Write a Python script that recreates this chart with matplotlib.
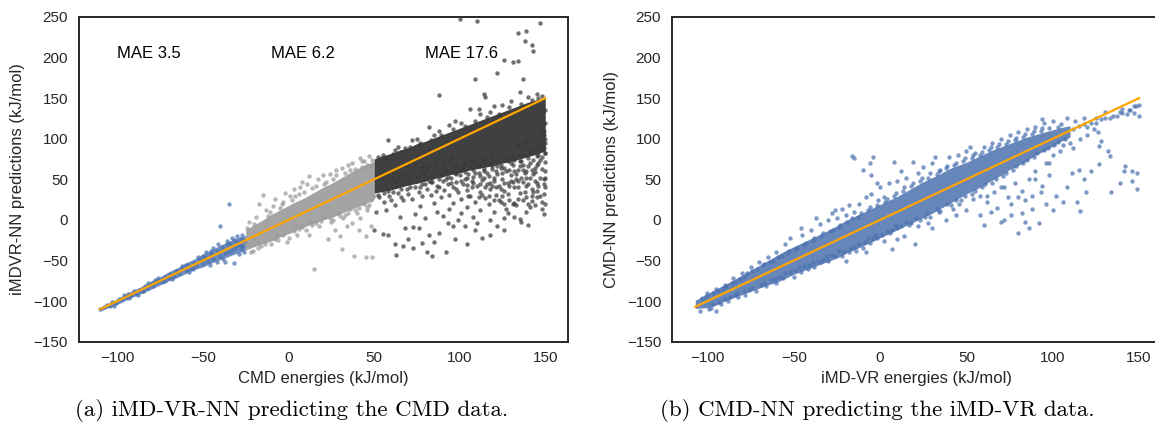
import numpy as np
import matplotlib
matplotlib.use("Agg")
import matplotlib.pyplot as plt

plt.rcParams['font.family'] = ['Liberation Sans', 'DejaVu Sans']

# ---- panel (a): CMD energies vs iMDVR-NN predictions ----
# dense cores of each energy range (x, lower, upper)
a_blue_x = [-110, -105, -100, -95, -90, -85, -80, -75, -70, -65, -60, -55, -50, -45, -40, -35, -30, -25]
a_blue_lo = [-112, -108, -104, -99, -94, -90, -85, -80, -75, -71, -66, -61, -58, -53, -49, -45, -41, -37]
a_blue_hi = [-108, -102, -97, -91, -86, -81, -75, -70, -64, -59, -53, -48, -42, -37, -31, -27, -22, -19]

a_grey_x = [-25, -20, -15, -10, -5, 0, 5, 10, 15, 20, 25, 30, 35, 40, 45, 50]
a_grey_lo = [-37, -33, -29, -26, -21, -17, -12, -8, -4, 0, 3, 7, 12, 16, 20, 25]
a_grey_hi = [-12, -6, 0, 7, 12, 18, 23, 28, 34, 40, 45, 51, 57, 63, 68, 72]

a_dark_x = [50, 55, 60, 65, 70, 75, 80, 85, 90, 95, 100, 105, 110, 115, 120, 125, 130, 135, 140, 145, 150]
a_dark_lo = [33, 35, 37, 40, 43, 45, 48, 51, 53, 56, 58, 61, 63, 65, 67, 70, 72, 75, 78, 81, 85]
a_dark_hi = [75, 79, 82, 86, 89, 94, 97, 101, 105, 109, 113, 117, 121, 125, 129, 133, 137, 141, 145, 148, 151]

a_blue_pts = [(-110, -110), (-108, -107), (-106, -105), (-104, -106), (-103, -101), (-101, -102),
              (-99, -97), (-97, -98), (-95, -95), (-94, -91), (-92, -93), (-90, -88), (-89, -91),
              (-87, -86), (-85, -87), (-84, -82), (-82, -84), (-80, -78), (-79, -81), (-77, -76),
              (-75, -74), (-74, -77), (-72, -70), (-70, -71), (-69, -67), (-67, -69), (-65, -63),
              (-64, -66), (-62, -61), (-60, -62), (-59, -56), (-57, -59), (-55, -53), (-54, -57),
              (-52, -49), (-50, -53), (-49, -46), (-47, -50), (-45, -42), (-44, -48), (-42, -38),
              (-40, -44), (-39, -33), (-37, -41), (-36, -30), (-35, -39), (-34, -28), (-33, -37),
              (-32, -25), (-31, -35), (-30, -27), (-29, -31), (-28, -24), (-27, -32), (-26, -26),
              (-35, 19), (-40, -7), (-32, -53), (-45, -38), (-38, -48), (-30, -20), (-28, -36),
              (-50, -45), (-56, -60), (-60, -55), (-66, -63), (-72, -75), (-78, -74), (-85, -88),
              (-93, -96), (-42, -52), (-48, -40), (-26, -40), (-33, -22), (-58, -64), (-53, -46),
              (-46, -56), (-41, -30), (-37, -52), (-29, -42), (-27, -18), (-62, -57), (-68, -73),
              (-76, -71), (-82, -78), (-88, -92), (-96, -92), (-102, -106), (-36, -26), (-44, -35)]

a_grey_pts = [(15, -61), (23, -24), (31, -36), (38, -45), (45, -46), (49, -46), (41, -12),
              (-15, 31), (-8, 26), (-2, 33), (3, 38), (12, 54), (8, 47), (20, 55), (28, 62),
              (35, 68), (42, 76), (47, 79), (44, 72), (49, 74), (0, -22), (5, -18), (10, -12),
              (18, -8), (25, -3), (32, 2), (40, 8), (-10, -30), (-18, -35), (-22, -40),
              (-24, -10), (-20, -5), (-12, 5), (-5, 15), (2, 25), (9, 35), (16, 42), (26, 50),
              (33, 58), (39, 63), (46, 68), (-25, -30), (-20, -22), (-14, -30), (-6, -25),
              (4, -8), (13, -3), (21, 3), (29, 8), (36, 14), (44, 20), (48, 24), (46, 12),
              (37, -4), (27, -12), (45, -20), (48, -8), (30, -20), (-17, 20), (6, 32), (22, 47),
              (-23, -2), (-19, 4), (-13, 12), (-9, 17), (-3, 22), (1, 30), (7, 40), (11, 44),
              (17, 50), (24, 57), (31, 64), (37, 70), (43, 73), (48, 66), (-21, -38), (-16, -32),
              (-8, -24), (-3, -19), (3, -14), (8, -9), (14, -6), (19, -1), (24, 2), (30, 5),
              (35, 9), (41, 15), (47, 18), (50, 30), (34, -8), (42, 2), (-1, -27), (12, -18),
              (-11, 10), (-4, 20), (4, 29), (14, 39), (21, 44), (28, 55), (36, 61), (43, 65),
              (-18, -28), (-7, -18), (6, -11), (16, -4), (26, 0), (33, 6), (39, 12), (46, 16)]

a_dark_pts = [(100, 247), (110, 245), (147, 243), (134, 230), (139, 233), (138, 220), (142, 216),
              (143, 208), (126, 197), (131, 195), (134, 196), (122, 181), (109, 174), (137, 174),
              (88, 154), (135, 158), (114, 155), (115, 152),
              (58, 98), (82, 114), (94, 117), (106, 137), (111, 137), (101, 119), (68, 88),
              (55, 80), (62, 86), (75, 100), (88, 110), (97, 122), (118, 133), (125, 142),
              (130, 147), (140, 152), (145, 155), (148, 153), (120, 140), (112, 130), (85, 104),
              (72, 98), (64, 90), (52, 78),
              (51, 10), (57, 12), (50, -13), (55, -17), (58, -18), (63, -43), (67, -32), (70, -23),
              (68, -10), (73, -9), (76, -10), (73, -34), (81, -39), (85, -27), (82, -18), (88, -16),
              (93, -4), (97, -24), (109, -12), (113, -22), (122, -7), (128, 9), (135, 1), (136, -2),
              (142, 23), (148, 13), (149, 7), (96, 21), (101, 9), (90, 5), (60, 25), (67, 25),
              (77, 17), (85, 21), (107, 40), (113, 31), (119, 42), (125, 29), (132, 21), (138, 34),
              (146, 42), (69, 38),
              (53, 28), (56, 22), (59, 30), (62, 18), (64, 33), (66, 28), (70, 32), (72, 26),
              (74, 40), (76, 35), (78, 29), (80, 44), (81, 38), (83, 31), (84, 47), (86, 36),
              (87, 42), (89, 28), (90, 48), (91, 37), (93, 44), (94, 31), (95, 52), (96, 40),
              (98, 47), (99, 34), (100, 55), (101, 26), (102, 44), (103, 50), (104, 37), (105, 57),
              (106, 30), (107, 48), (108, 53), (109, 22), (110, 42), (111, 58), (112, 35), (113, 49),
              (114, 60), (115, 27), (116, 44), (117, 54), (118, 38), (119, 63), (120, 48), (121, 31),
              (122, 57), (123, 42), (124, 64), (125, 51), (126, 36), (127, 60), (128, 45), (129, 25),
              (130, 55), (131, 68), (132, 40), (133, 50), (134, 62), (135, 33), (136, 72), (137, 47),
              (138, 58), (139, 28), (140, 66), (141, 52), (142, 38), (143, 74), (144, 59), (145, 45),
              (146, 80), (147, 30), (148, 63), (149, 50), (150, 71), (150, 40), (149, 88), (147, 95),
              (145, 68), (143, 35), (141, 16), (139, 42), (137, 61), (133, 18), (131, 47), (127, 14),
              (124, 22), (120, 10), (117, 19), (112, 12), (108, 4), (104, 16), (99, 0), (94, 13),
              (87, 10), (80, 2), (74, 7), (65, 3), (92, 60), (97, 58), (102, 63), (84, 52), (79, 50),
              (70, 45), (63, 42), (58, 36), (118, 70), (128, 72), (135, 80), (144, 85), (150, 95),
              (150, 120), (150, 135), (149, 110), (150, 100),
              (54, 70), (57, 76), (61, 81), (66, 84), (71, 90), (77, 95), (83, 99), (89, 104),
              (96, 112), (103, 116), (109, 122), (116, 127), (123, 130), (129, 139), (136, 143),
              (142, 148), (146, 150), (52, 31), (56, 33), (61, 35), (66, 38), (71, 41), (78, 44),
              (83, 47), (88, 50), (93, 53), (98, 56), (103, 59), (108, 61), (114, 63), (119, 66),
              (124, 68), (130, 70), (135, 73), (140, 76), (145, 79), (150, 83),
              (61, 52), (63, 47), (65, 55), (67, 44), (69, 58), (71, 50), (73, 62), (75, 53),
              (77, 40), (79, 57), (81, 63), (82, 48), (85, 58), (86, 66), (88, 40), (89, 55),
              (91, 64), (92, 50), (94, 70), (95, 45), (97, 66), (98, 38), (100, 62), (101, 48),
              (103, 70), (104, 43), (105, 30), (106, 65), (108, 46), (110, 68), (111, 28), (112, 54),
              (114, 72), (115, 40), (116, 58), (117, 30), (119, 75), (120, 52), (121, 40), (122, 66),
              (123, 24), (125, 58), (126, 45), (127, 78), (128, 32), (129, 62), (130, 48), (131, 20),
              (132, 74), (133, 56), (134, 40), (135, 66), (136, 52), (137, 25), (138, 80), (139, 60),
              (140, 44), (141, 70), (142, 30), (143, 56), (144, 64), (145, 36), (146, 70), (147, 52),
              (148, 78), (149, 44), (150, 60), (150, 82), (148, 22), (144, 18), (139, 10), (132, 4),
              (126, 2), (118, 0), (110, -4), (103, -8), (96, -8), (126, -12), (140, -6), (118, -18),
              (104, -30), (92, -40), (84, -44), (78, -28), (62, -30),
              (102, 68), (107, 72), (113, 76), (118, 80), (123, 84), (129, 88), (134, 92), (139, 96),
              (144, 100), (149, 104), (111, 66), (121, 72), (131, 77), (141, 84), (146, 90),
              (104, 52), (109, 58), (114, 52), (121, 60), (126, 64), (132, 60), (137, 68), (142, 62),
              (147, 74), (150, 52), (112, 44), (118, 46), (124, 38), (129, 42), (134, 48), (139, 52),
              (144, 48), (149, 32), (120, 24), (126, 20), (134, 26), (140, 20), (145, 28), (150, 20),
              (91, 72), (95, 76), (99, 78), (86, 72), (82, 68), (78, 64), (74, 70), (69, 66)]

a_line = [-110, 150]
a_mae_x = [-100, -10, 80]
a_mae_labels = ['MAE 3.5', 'MAE 6.2', 'MAE 17.6']

# ---- panel (b): iMD-VR energies vs CMD-NN predictions ----
b_x = [-107, -100, -95, -90, -85, -80, -75, -70, -65, -60, -55, -50, -45, -40, -35, -30, -25, -20,
       -15, -10, -5, 0, 5, 10, 15, 20, 25, 30, 35, 40, 45, 50, 55, 60, 65, 70, 75, 80, 85, 90, 95,
       100, 105, 110]
b_lo = [-109, -108, -105, -100, -96, -92, -88, -84, -80, -77, -72, -67, -63, -59, -55, -51, -47,
        -41, -37, -32, -27, -22, -17, -12, -7, -2, 3, 8, 14, 20, 26, 32, 37, 43, 49, 55, 62, 67, 73,
        80, 85, 91, 97, 102]
b_hi = [-99, -91, -85, -80, -74, -68, -62, -56, -50, -44, -38, -33, -28, -23, -18, -13, -7, -1,
        4, 9, 14, 19, 24, 29, 35, 41, 47, 52, 57, 63, 67, 71, 76, 81, 86, 90, 94, 98, 102, 105, 108,
        111, 114, 116]

b_pts = [(-16, 79), (-15, 76), (-4, 77), (-6, 70), (-10, 62), (-5, 55), (8, 71), (19, 71),
         (70, -3), (80, -16), (86, -10), (92, -4), (58, 6), (114, 22), (116, 11), (119, 34),
         (111, 58), (115, 62), (127, 91), (128, 97), (132, 85), (133, 79), (127, 69), (134, 34),
         (141, 60), (142, 67), (146, 60), (149, 58), (139, 46), (146, 48), (149, 38), (94, 124),
         (113, 122), (130, 133), (139, 133), (145, 135), (143, 130), (20, -30), (7, -36),
         (-95, -112),
         (-100, -90), (-95, -85), (-90, -80), (-85, -72), (-80, -66), (-75, -58), (-70, -52),
         (-65, -46), (-60, -40), (-55, -30), (-52, -22), (-45, -18), (-40, -12), (-35, -5),
         (-30, 0), (-28, 8), (-25, 2), (-22, 14), (-18, 18), (-15, 10), (-12, 20), (-8, 28),
         (-5, 32), (0, 40), (2, 28), (5, 45), (10, 48), (15, 52), (22, 58), (25, 65), (30, 70),
         (35, 62), (40, 78), (45, 80), (50, 85), (55, 82), (60, 90), (65, 95), (70, 100),
         (75, 104), (80, 108), (85, 112), (90, 115), (95, 120), (100, 122), (105, 118),
         (108, 125), (118, 125), (122, 120), (125, 126), (135, 128), (148, 140), (140, 137),
         (-104, -112), (-98, -108), (-92, -104), (-88, -100), (-82, -95), (-78, -92), (-72, -88),
         (-66, -82), (-60, -78), (-56, -72), (-50, -70), (-46, -64), (-42, -60), (-38, -58),
         (-34, -52), (-30, -50), (-26, -45), (-22, -44), (-18, -40), (-14, -38), (-10, -34),
         (-6, -28), (-2, -22), (2, -26), (6, -16), (10, -10), (14, -20), (18, -4), (22, -8),
         (26, 4), (30, -10), (34, 10), (38, 0), (42, 14), (46, 20), (50, 12), (54, 26), (58, 30),
         (62, 22), (66, 35), (68, 15), (72, 40), (74, 28), (76, 20), (78, 45), (82, 36), (84, 24),
         (86, 50), (88, 30), (90, 60), (94, 42), (96, 70), (98, 55), (100, 80), (104, 85),
         (106, 92), (110, 95), (112, 88), (116, 100), (120, 105), (124, 112), (126, 108),
         (122, 60), (118, 50), (108, 40), (102, 30), (96, 20), (88, 14), (82, 8), (76, 6),
         (64, 10), (60, -6), (84, -2), (100, 12), (106, 22), (93, 34), (80, 28), (72, 0),
         (112, 112), (115, 116), (118, 118), (120, 114), (125, 120), (128, 124), (130, 126),
         (133, 125), (137, 128), (140, 132), (144, 136), (147, 140), (150, 142), (150, 128),
         (147, 132),
         (-103, -96), (-97, -90), (-91, -84), (-86, -78), (-81, -73), (-77, -66), (-71, -61),
         (-67, -54), (-62, -50), (-57, -44), (-53, -38), (-48, -34), (-43, -28), (-38, -22),
         (-33, -16), (-27, -12), (-23, -6), (-19, -2), (-13, 4), (-7, 12), (-2, 18), (3, 22),
         (8, 30), (13, 36), (18, 42), (23, 48), (28, 52), (33, 56), (38, 64), (43, 68), (48, 72),
         (53, 76), (58, 80), (63, 86), (68, 90), (73, 94), (78, 98), (83, 102), (88, 106),
         (93, 110), (98, 113), (103, 115), (-99, -110), (-93, -101), (-87, -95), (-83, -90),
         (-76, -86), (-69, -80), (-63, -74), (-58, -70), (-52, -64), (-47, -58), (-41, -55),
         (-36, -50), (-31, -44), (-24, -38), (-17, -34), (-12, -30), (-7, -22), (-3, -18),
         (4, -14), (9, -6), (15, -2), (21, 2), (27, 8), (33, 14), (39, 20), (44, 24), (49, 30),
         (55, 36), (61, 44), (67, 50), (73, 58), (79, 66), (85, 74), (91, 82), (97, 88), (103, 96),
         (-101, -94), (-94, -88), (-89, -82), (-84, -76), (-79, -70), (-74, -63), (-68, -56),
         (-64, -52), (-59, -46), (-54, -41), (-49, -36), (-44, -31), (-39, -26), (-34, -20),
         (-29, -14), (-24, -9), (-20, 6), (-16, 2), (-11, 8), (-6, 16), (-1, 24), (4, 26), (9, 33),
         (14, 40), (19, 45), (24, 52), (29, 58), (34, 60), (39, 66), (44, 70), (49, 76), (54, 80),
         (59, 84), (64, 90), (69, 93), (74, 97), (79, 101), (84, 106), (89, 109), (94, 113),
         (-97, -104), (-90, -98), (-84, -93), (-79, -88), (-74, -84), (-67, -78), (-61, -73),
         (-55, -66), (-49, -62), (-44, -57), (-39, -52), (-33, -48), (-28, -43), (-21, -39),
         (-15, -33), (-9, -27), (-4, -24), (1, -19), (7, -12), (12, -8), (17, -6), (23, 0),
         (29, 4), (35, 11), (41, 18), (47, 25), (53, 32), (59, 40), (65, 46), (71, 54), (77, 62),
         (83, 70), (89, 78), (95, 86), (101, 92), (107, 100),
         (-46, -10), (-37, 2), (-26, 12), (-2, 46), (12, 60), (32, 78), (52, 90), (-20, -50),
         (-8, -40), (10, -24), (28, -4), (44, 6), (62, 30), (70, 40), (90, 50), (98, 70)]

b_line = [-107, 150]

captions = ['(a) iMD-VR-NN predicting the CMD data.', '(b) CMD-NN predicting the iMD-VR data.']

BLUE = '#4c72b0'
LGREY = '#9a9a9a'
DGREY = '#3a3a3a'
ORANGE = '#ffa500'

fig = plt.figure(figsize=(11.55, 4.34), dpi=100)
ax1 = fig.add_axes([0.0684, 0.2127, 0.4231, 0.7482])
ax2 = fig.add_axes([0.5821, 0.2127, 0.4231, 0.7482])


def scatter_pts(ax, pts, color):
    p = np.array(pts).T
    ax.scatter(p[0], p[1], s=10, color=color, alpha=0.72, linewidths=0, zorder=3)


# panel (a)
ax1.fill_between(a_blue_x, a_blue_lo, a_blue_hi, color=BLUE, alpha=0.8, lw=0, zorder=2)
scatter_pts(ax1, a_blue_pts, BLUE)
ax1.fill_between(a_grey_x, a_grey_lo, a_grey_hi, color=LGREY, alpha=0.9, lw=0, zorder=2)
scatter_pts(ax1, a_grey_pts, LGREY)
ax1.fill_between(a_dark_x, a_dark_lo, a_dark_hi, color=DGREY, alpha=0.97, lw=0, zorder=2)
scatter_pts(ax1, a_dark_pts, DGREY)
ax1.plot(a_line, a_line, color=ORANGE, lw=1.6, zorder=4)
for x, t in zip(a_mae_x, a_mae_labels):
    ax1.text(x, 200, t, fontsize=12, ha='left', va='baseline')

# panel (b)
ax2.fill_between(b_x, b_lo, b_hi, color=BLUE, alpha=0.85, lw=0, zorder=2)
scatter_pts(ax2, b_pts, BLUE)
ax2.plot(b_line, b_line, color=ORANGE, lw=1.6, zorder=4)

for ax, xl, yl, lims in [(ax1, 'CMD energies (kJ/mol)', 'iMDVR-NN predictions (kJ/mol)', (-122.4, 163.1)),
                         (ax2, 'iMD-VR energies (kJ/mol)', 'CMD-NN predictions (kJ/mol)', (-120.3, 162.7))]:
    ax.set_xlim(*lims)
    ax.set_ylim(-150, 250)
    ax.set_xticks([-100, -50, 0, 50, 100, 150])
    ax.set_yticks([-150, -100, -50, 0, 50, 100, 150, 200, 250])
    ax.tick_params(length=0, labelsize=11, colors='#262626')
    ax.tick_params(axis='x', pad=7)
    ax.tick_params(axis='y', pad=8)
    ax.set_xlabel(xl, fontsize=12, color='#262626', labelpad=4)
    ax.set_ylabel(yl, fontsize=12, color='#262626', labelpad=6)
    for sp in ax.spines.values():
        sp.set_color('#262626')
        sp.set_linewidth(1.4)

for xc, cap in zip([292 / 1155, 877 / 1155], captions):
    fig.text(xc, 1 - 411 / 434, cap, family='cmr10', fontsize=16.5, ha='center', va='center')

fig.savefig('out.png', dpi=100)
